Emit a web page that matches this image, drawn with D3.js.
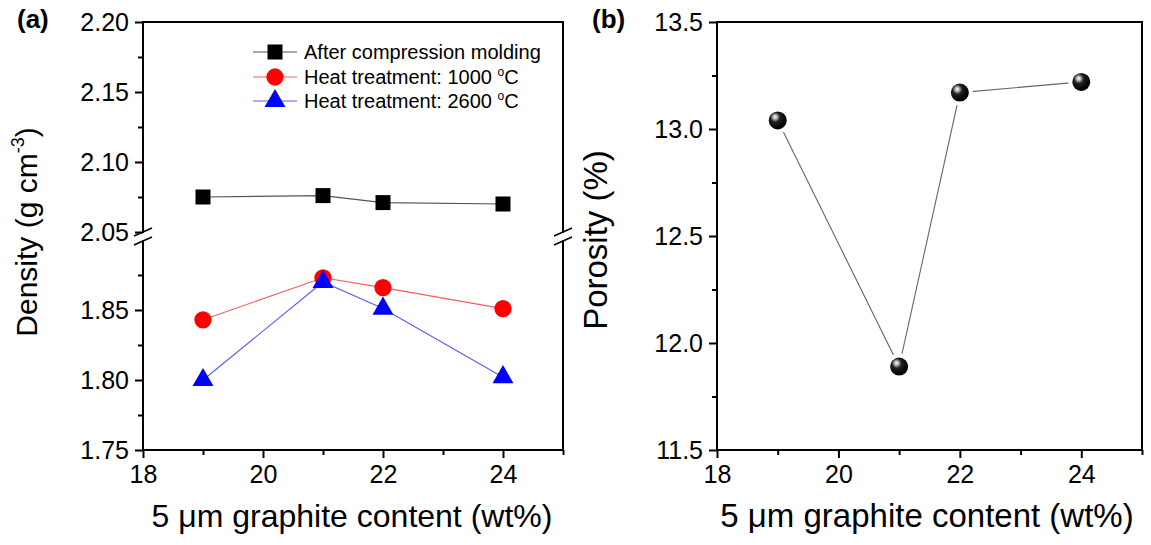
<!DOCTYPE html>
<html lang="en">
<head>
<meta charset="UTF-8">
<title>Density and porosity</title>
<script src="https://cdn.jsdelivr.net/npm/d3@7"></script>
<style>
  body { margin: 0; background: #fff; }
  svg { display: block; }
  svg text { font-family: "Liberation Sans", Arial, sans-serif; }
</style>
</head>
<body>
<div id="chart"></div>
<script>
// graphite content (wt%) on x
const contents = [19, 21, 22, 24];
const xTicks = [18, 20, 22, 24];
const xMinor = [19, 21, 23, 25];

// panel (a): density, g cm-3
const densityMolded = [2.075, 2.076, 2.071, 2.070];
const density1000 = [1.843, 1.873, 1.866, 1.851];
const density2600 = [1.800, 1.870, 1.851, 1.802];
const legendNames = ["After compression molding", "Heat treatment: 1000 ", "Heat treatment: 2600 "];
const upperTicks = [2.05, 2.10, 2.15, 2.20];
const upperMinor = [2.075, 2.125, 2.175];
const lowerTicks = [1.75, 1.80, 1.85];
const lowerMinor = [1.775, 1.825, 1.875];

// panel (b): porosity, %
const porosity = [13.04, 11.89, 13.17, 13.22];
const porosityTicks = [11.5, 12.0, 12.5, 13.0, 13.5];
const porosityMinor = [11.75, 12.25, 12.75, 13.25];

const W = 1151, H = 545;
const svg = d3.select("#chart").append("svg")
    .attr("width", W).attr("height", H);

const defs = svg.append("defs");
const grad = defs.append("radialGradient").attr("id", "ball")
    .attr("cx", "38%").attr("cy", "35%").attr("r", "60%")
    .attr("fx", "35%").attr("fy", "30%");
grad.append("stop").attr("offset", "0%").attr("stop-color", "#ffffff");
grad.append("stop").attr("offset", "18%").attr("stop-color", "#bbbbbb");
grad.append("stop").attr("offset", "45%").attr("stop-color", "#202020");
grad.append("stop").attr("offset", "100%").attr("stop-color", "#000000");

const tickFont = 25;

function styleAxis(g, showText) {
  g.attr("font-family", null).attr("font-size", null);
  g.select(".domain").remove();
  g.selectAll("line").attr("stroke", "#000").attr("stroke-width", 2);
  g.selectAll("text").attr("fill", "#000").style("font-size", tickFont + "px");
  if (!showText) g.selectAll("text").remove();
}

function xAxis(g, x, y0) {
  g.append("g").attr("transform", `translate(0,${y0})`)
    .call(d3.axisBottom(x).tickValues(xTicks).tickSize(8).tickPadding(7).tickFormat(d3.format("d")))
    .call(a => styleAxis(a, true));
  g.append("g").attr("transform", `translate(0,${y0})`)
    .call(d3.axisBottom(x).tickValues(xMinor).tickSize(5).tickFormat(""))
    .call(a => styleAxis(a, false));
}

function yAxis(g, y, x0, major, minor, fmt) {
  g.append("g").attr("transform", `translate(${x0},0)`)
    .call(d3.axisLeft(y).tickValues(major).tickSize(8).tickPadding(6).tickFormat(d3.format(fmt)))
    .call(a => styleAxis(a, true));
  g.append("g").attr("transform", `translate(${x0},0)`)
    .call(d3.axisLeft(y).tickValues(minor).tickSize(5).tickFormat(""))
    .call(a => styleAxis(a, false));
}

// ---------- panel (a) ----------
const ax = { left: 143, right: 563, top: 22, bottom: 450 };
const gapTop = 233, gapBottom = 240;
const xa = d3.scaleLinear().domain([18, 25]).range([ax.left, ax.right]);
const yUp = d3.scaleLinear().domain([2.05, 2.20]).range([232, ax.top]);
const yLow = d3.scaleLinear().domain([1.75, 1.90]).range([ax.bottom, 240]);

const ga = svg.append("g");

// frame with break on left and right
const frame = ga.append("g").attr("stroke", "#000").attr("stroke-width", 2).attr("fill", "none");
frame.append("path").attr("d",
  `M${ax.left},${gapTop}V${ax.top}H${ax.right}V${gapTop}` +
  `M${ax.left},${gapBottom}V${ax.bottom}H${ax.right}V${gapBottom}`);
[ax.left, ax.right].forEach(bx => {
  [gapTop - 1, gapBottom + 1].forEach(by => {
    frame.append("line")
      .attr("x1", bx - 9).attr("y1", by + 4)
      .attr("x2", bx + 9).attr("y2", by - 4)
      .attr("stroke-width", 1.6);
  });
});

xAxis(ga, xa, ax.bottom);
yAxis(ga, yUp, ax.left, upperTicks, upperMinor, ".2f");
yAxis(ga, yLow, ax.left, lowerTicks, lowerMinor, ".2f");

const seriesA = [
  { values: densityMolded, y: yUp, line: "#555555", fill: "#000000", symbol: d3.symbolSquare, size: 225 },
  { values: density1000, y: yLow, line: "#ff5a5a", fill: "#ff0000", symbol: d3.symbolCircle, size: 235 },
  { values: density2600, y: yLow, line: "#5a5aff", fill: "#0000ff", symbol: d3.symbolTriangle, size: 190 }
];

seriesA.forEach(s => {
  const pts = contents.map((c, i) => [xa(c), s.y(s.values[i])]);
  ga.append("path")
    .attr("d", d3.line()(pts))
    .attr("fill", "none").attr("stroke", s.line).attr("stroke-width", 1.1);
  ga.append("g").selectAll("path").data(pts).join("path")
    .attr("transform", d => `translate(${d[0]},${d[1]})`)
    .attr("d", d3.symbol(s.symbol, s.size))
    .attr("fill", s.fill);
});

// legend
const legend = ga.append("g");
const legendY = [52, 77, 101];
seriesA.forEach((s, i) => {
  const row = legend.append("g").attr("transform", `translate(0,${legendY[i]})`);
  row.append("line").attr("x1", 253).attr("x2", 297)
    .attr("stroke", s.line).attr("stroke-width", 1.1);
  row.append("path").attr("transform", "translate(275,0)")
    .attr("d", d3.symbol(s.symbol, s.size)).attr("fill", s.fill);
  const t = row.append("text").attr("x", 304).attr("dy", "0.35em")
    .style("font-size", "20px").text(legendNames[i]);
  if (i > 0) {
    t.append("tspan").attr("dy", -8).style("font-size", "12px").text("o");
    t.append("tspan").attr("dy", 8).text("C");
  }
});

ga.append("text").attr("x", 17).attr("y", 28)
  .style("font-size", "26px").style("font-weight", "bold").text("(a)");

const ta = ga.append("text")
  .attr("transform", "translate(37,232) rotate(-90)")
  .attr("text-anchor", "middle").style("font-size", "30px")
  .text("Density (g cm");
ta.append("tspan").attr("dy", -13).style("font-size", "18px").text("-3");
ta.append("tspan").attr("dy", 13).text(")");

ga.append("text").attr("x", 352).attr("y", 527)
  .attr("text-anchor", "middle").style("font-size", "32px")
  .text("5 μm graphite content (wt%)");

// ---------- panel (b) ----------
const bx = { left: 717, right: 1142, top: 22, bottom: 450 };
const xb = d3.scaleLinear().domain([18, 25]).range([bx.left, bx.right]);
const yb = d3.scaleLinear().domain([11.5, 13.5]).range([bx.bottom, bx.top]);

const gb = svg.append("g");
gb.append("rect")
  .attr("x", bx.left).attr("y", bx.top)
  .attr("width", bx.right - bx.left).attr("height", bx.bottom - bx.top)
  .attr("fill", "none").attr("stroke", "#000").attr("stroke-width", 2);

xAxis(gb, xb, bx.bottom);
yAxis(gb, yb, bx.left, porosityTicks, porosityMinor, ".1f");

const ptsB = contents.map((c, i) => [xb(c), yb(porosity[i])]);
gb.append("path").attr("d", d3.line()(ptsB))
  .attr("fill", "none").attr("stroke", "#666").attr("stroke-width", 1.1);
// white halo gives the gap between line and symbol
gb.append("g").selectAll("circle").data(ptsB).join("circle")
  .attr("cx", d => d[0]).attr("cy", d => d[1]).attr("r", 13).attr("fill", "#fff");
gb.append("g").selectAll("circle").data(ptsB).join("circle")
  .attr("cx", d => d[0]).attr("cy", d => d[1]).attr("r", 9)
  .attr("fill", "url(#ball)");

gb.append("text").attr("x", 592).attr("y", 28)
  .style("font-size", "26px").style("font-weight", "bold").text("(b)");

gb.append("text")
  .attr("transform", "translate(607,240) rotate(-90)")
  .attr("text-anchor", "middle").style("font-size", "33px")
  .text("Porosity (%)");

gb.append("text").attr("x", 927).attr("y", 527)
  .attr("text-anchor", "middle").style("font-size", "33px")
  .text("5 μm graphite content (wt%)");
</script>
</body>
</html>
